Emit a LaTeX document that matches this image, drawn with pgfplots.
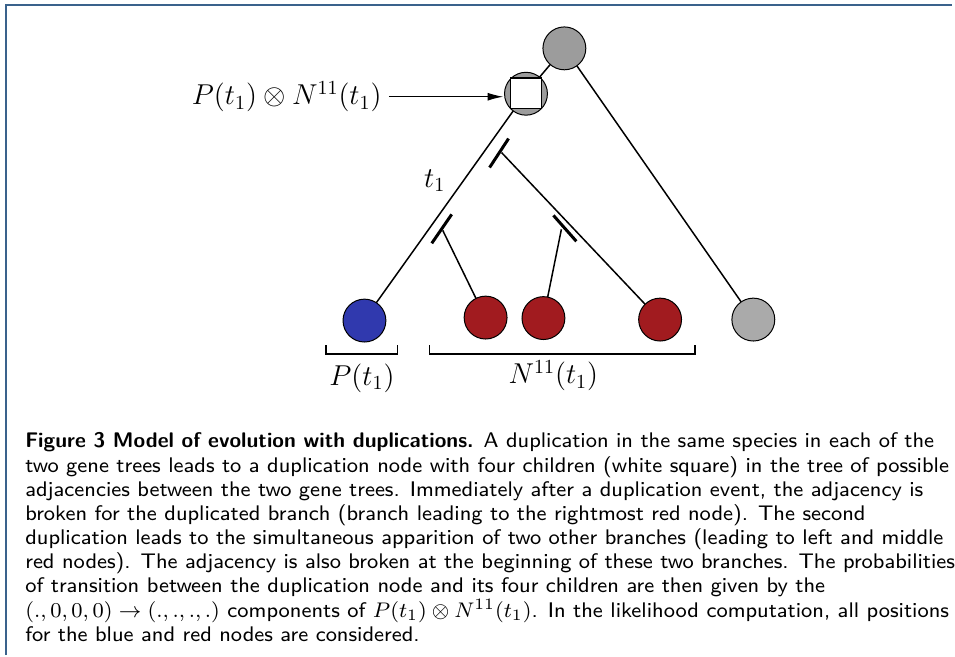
\documentclass[border=0pt]{standalone}
\usepackage{graphicx}
\usepackage{pgfplots}
\pgfplotsset{compat=1.18}
\usetikzlibrary{arrows.meta}
\definecolor{nblue}{RGB}{48,57,174}
\definecolor{nred}{RGB}{161,27,31}
\definecolor{ngray}{RGB}{156,156,156}
\definecolor{lgray}{RGB}{170,170,170}
\definecolor{bordercol}{RGB}{58,98,140}
\begin{document}
\begin{tikzpicture}
\begin{axis}[hide axis, scale only axis, width=477.5pt, height=328.5pt,
  xmin=0, xmax=955, ymin=0, ymax=657, y dir=reverse, clip=false]
\path (rel axis cs:0,0) rectangle (rel axis cs:1,1);
% frame
\addplot[draw=bordercol, line width=1pt] coordinates {(6.5,657) (6.5,5) (955,5)};
% tree edges
\addplot[black, line width=0.75pt] coordinates {(566,48) (527,94)};
\addplot[black, line width=0.75pt] coordinates {(566,48) (756,321)};
\addplot[black, line width=0.75pt] coordinates {(527,94) (365,321)};
\addplot[black, line width=0.75pt] coordinates {(503,153) (662,321)};
\addplot[black, line width=0.75pt] coordinates {(444,231) (487,319)};
\addplot[black, line width=0.75pt] coordinates {(563,230) (545,319)};
% break marks
\addplot[black, line width=1.5pt] coordinates {(491,168) (510,139)};
\addplot[black, line width=1.5pt] coordinates {(433,244) (453,215)};
\addplot[black, line width=1.5pt] coordinates {(555,216) (578,242)};
% brackets
\addplot[black, line width=0.6pt] coordinates {(327,346) (327,355) (399,355) (399,346)};
\addplot[black, line width=0.6pt] coordinates {(431,346) (431,355) (697,355) (697,346)};
% arrow
\addplot[black, line width=0.75pt, -{Latex[length=8pt,width=4pt]}] coordinates {(390,97) (505,97)};
% nodes
\addplot[only marks, mark=*, mark size=10.75pt, mark options={fill=ngray, draw=black, line width=0.5pt}] coordinates {(566,48.5) (527.5,94)};
\addplot[only marks, mark=*, mark size=10.75pt, mark options={fill=lgray, draw=black, line width=0.5pt}] coordinates {(755.5,320.5)};
\addplot[only marks, mark=*, mark size=10.75pt, mark options={fill=nblue, draw=black, line width=0.5pt}] coordinates {(365.5,321.5)};
\addplot[only marks, mark=*, mark size=10.75pt, mark options={fill=nred, draw=black, line width=0.5pt}] coordinates {(487,318.5) (545,319) (662,320.5)};
\addplot[only marks, mark=square*, mark size=7.75pt, mark options={fill=white, draw=black, line width=0.8pt}] coordinates {(527.5,93.5)};
% labels
\node[anchor=east, inner sep=0pt, font=\Large] at (axis cs:383,97) {$P(t_1)\otimes N^{11}(t_1)$};
\node[inner sep=0pt, font=\Large] at (axis cs:436,181) {$t_1$};
\node[inner sep=0pt, font=\Large] at (axis cs:363,379) {$P(t_1)$};
\node[inner sep=0pt, font=\Large] at (axis cs:555,377) {$N^{11}(t_1)$};
% caption
\node[anchor=north west, inner sep=0pt] at (axis cs:25,432) {\scalebox{1.325}{%
\fontsize{8}{9.1}\selectfont\sffamily\renewcommand{\arraystretch}{1}%
\begin{tabular}{@{}l@{}}
\textbf{Figure 3 Model of evolution with duplications.} A duplication in the same species in each of the\\
two gene trees leads to a duplication node with four children (white square) in the tree of possible\\
adjacencies between the two gene trees. Immediately after a duplication event, the adjacency is\\
broken for the duplicated branch (branch leading to the rightmost red node). The second\\
duplication leads to the simultaneous apparition of two other branches (leading to left and middle\\
red nodes). The adjacency is also broken at the beginning of these two branches. The probabilities\\
of transition between the duplication node and its four children are then given by the\\
$(.,0,0,0)\rightarrow(.,.,.,.)$ components of $P(t_1)\otimes N^{11}(t_1)$. In the likelihood computation, all positions\\
for the blue and red nodes are considered.
\end{tabular}}};
\end{axis}
\end{tikzpicture}
\end{document}
